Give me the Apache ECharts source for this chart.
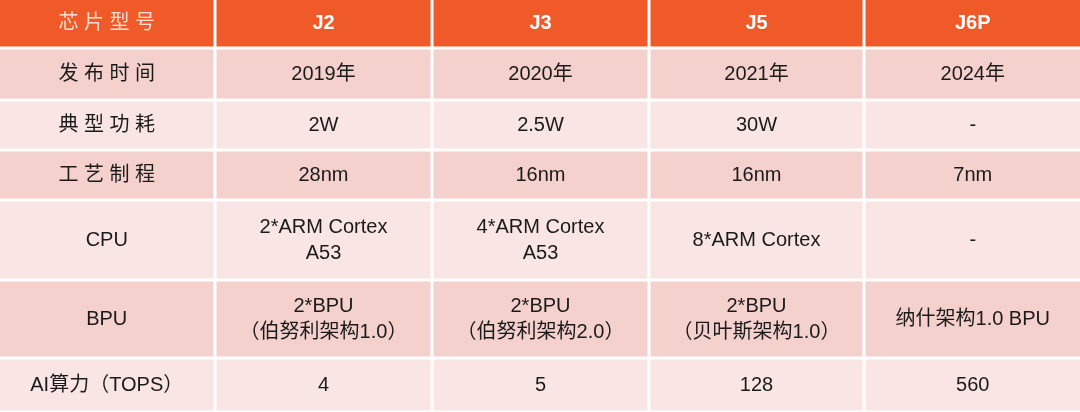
<!DOCTYPE html>
<html><head><meta charset="utf-8">
<script src="https://cdn.jsdelivr.net/npm/echarts@6/dist/echarts.min.js"></script>
<style>html,body{margin:0;padding:0;background:#fff}#c{width:1080px;height:412px}</style>
</head><body><div id="c"></div>
<script>
const headers = ['芯片型号', 'J2', 'J3', 'J5', 'J6P'];
const rowLabels = ['发布时间', '典型功耗', '工艺制程', 'CPU', 'BPU', 'AI算力（TOPS）'];
const J2 = ['2019年', '2W', '28nm', '2*ARM Cortex\nA53', '2*BPU\n（伯努利架构1.0）', '4'];
const J3 = ['2020年', '2.5W', '16nm', '4*ARM Cortex\nA53', '2*BPU\n（伯努利架构2.0）', '5'];
const J5 = ['2021年', '30W', '16nm', '8*ARM Cortex', '2*BPU\n（贝叶斯架构1.0）', '128'];
const J6P = ['2024年', '-', '7nm', '-', '纳什架构1.0 BPU', '560'];

const colEdges = [0, 215, 432, 649, 864, 1080];
const rowEdges = [0, 48, 100, 150, 200, 280, 358, 412];
const gap = 3;
const cols = [rowLabels, J2, J3, J5, J6P];

const data = [];
for (let c = 0; c < 5; c++) {
  data.push([c, 0, headers[c]]);
  for (let r = 0; r < rowLabels.length; r++) data.push([c, r + 1, cols[c][r]]);
}

const chart = echarts.init(document.getElementById('c'));
chart.setOption({
  animation: false,
  grid: {left: 0, right: 0, top: 0, bottom: 0},
  xAxis: {type: 'value', min: 0, max: 1080, show: false},
  yAxis: {type: 'value', min: 0, max: 412, inverse: true, show: false},
  series: [{
    type: 'custom',
    data: data,
    renderItem: function (params, api) {
      const c = api.value(0), r = api.value(1);
      const txt = data[params.dataIndex][2];
      const p0 = api.coord([colEdges[c], rowEdges[r]]);
      const p1 = api.coord([colEdges[c + 1], rowEdges[r + 1]]);
      const x = p0[0] + (c > 0 ? gap / 2 : 0);
      const w = p1[0] - p0[0] - (c > 0 ? gap / 2 : 0) - (c < 4 ? gap / 2 : 0);
      const y = p0[1] + (r > 0 ? gap / 2 : 0);
      const h = p1[1] - p0[1] - (r > 0 ? gap / 2 : 0) - gap / 2;
      let fill, color, font, weight = 'normal', size = 20;
      if (r === 0) { fill = '#F05A28'; color = c === 0 ? '#FBE0D6' : '#FFFFFF'; weight = c === 0 ? 'normal' : 'bold'; }
      else { fill = (r % 2 === 1) ? '#F4D1CD' : '#F9E6E4'; color = '#1a1a1a'; }
      let t = txt;
      if (r === 0 && c === 0) t = txt.split('').join(' ');
      else if (c === 0 && r < 6 && /^[\u4e00-\u9fff]+$/.test(txt)) t = txt.split('').join(' ');
      return {
        type: 'group',
        children: [
          {type: 'rect', shape: {x: x, y: y, width: w, height: h}, style: {fill: fill}},
          {type: 'text', style: {x: x + w / 2, y: y + h / 2, text: t, align: 'center', verticalAlign: 'middle',
            fill: color, fontSize: size, fontWeight: weight, lineHeight: 26,
            fontFamily: '"Liberation Sans","Noto Sans CJK SC",sans-serif'}}
        ]
      };
    }
  }]
});
</script></body></html>
